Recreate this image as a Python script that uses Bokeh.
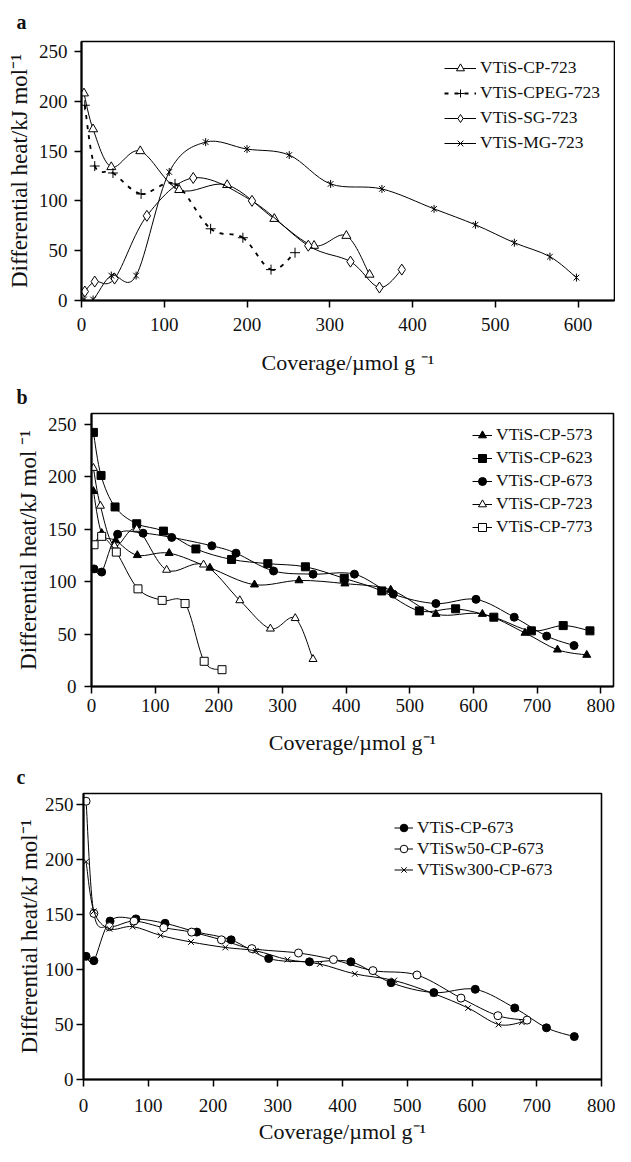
from bokeh.plotting import figure
from bokeh.layouts import column
from bokeh.models import Range1d, FixedTicker, Legend, LegendItem
from bokeh.embed import file_html
from bokeh.resources import INLINE
import math

FONT = "Liberation Serif"

# ---------------- Panel a data ----------------
a_cp723_x = [3, 14, 36, 71, 118, 176, 233, 281, 320, 348]
a_cp723_y = [208, 172, 134, 150, 111, 116, 82, 55, 65, 26]
a_cpeg723_x = [4, 16, 38, 72, 113, 156, 195, 229, 258]
a_cpeg723_y = [196, 135, 128, 107, 117, 72, 63, 31, 48]
a_sg723_x = [4, 16, 40, 79, 135, 206, 274, 325, 360, 387]
a_sg723_y = [9, 19, 22, 85, 123, 100, 55, 39, 13, 31]
a_mg723_x = [3, 14, 36, 66, 106, 150, 200, 251, 301, 363, 426, 476, 523, 566, 598]
a_mg723_y = [1, 1, 25, 25, 129, 159, 152, 146, 117, 112, 92, 76, 58, 44, 23]

# ---------------- Panel b data ----------------
b_cp573_x = [3, 16, 38, 72, 122, 186, 256, 326, 398, 470, 541, 614, 681, 732, 778]
b_cp573_y = [186, 146, 139, 125, 127, 113, 97, 101, 98, 92, 69, 69, 51, 35, 30]
b_cp623_x = [3, 15, 37, 71, 113, 164, 220, 277, 336, 397, 456, 515, 572, 632, 691, 741, 783]
b_cp623_y = [242, 201, 171, 155, 148, 131, 121, 117, 114, 103, 91, 72, 74, 66, 53, 58, 53]
b_cp673_x = [4, 16, 41, 81, 126, 189, 227, 286, 348, 413, 474, 541, 604, 664, 715, 758]
b_cp673_y = [112, 109, 145, 146, 142, 134, 127, 110, 107, 107, 88, 79, 83, 66, 48, 39]
b_cp723_x = [3, 14, 36, 71, 118, 176, 233, 281, 320, 348]
b_cp723_y = [208, 172, 134, 150, 111, 116, 82, 55, 65, 26]
b_cp773_x = [4, 16, 39, 73, 111, 147, 177, 205]
b_cp773_y = [135, 143, 128, 93, 82, 79, 24, 16]

# ---------------- Panel c data ----------------
c_cp673_x = [4, 16, 41, 81, 126, 175, 228, 286, 349, 413, 475, 541, 605, 666, 715, 758]
c_cp673_y = [112, 108, 144, 146, 142, 134, 127, 110, 107, 107, 88, 79, 82, 65, 47, 39]
c_w50_x = [4, 16, 40, 78, 124, 167, 213, 260, 332, 386, 447, 515, 583, 640, 685]
c_w50_y = [253, 151, 139, 144, 138, 134, 127, 119, 115, 109, 99, 95, 74, 58, 54]
c_w300_x = [4, 16, 40, 76, 119, 166, 219, 266, 315, 365, 419, 480, 541, 594, 641, 677]
c_w300_y = [198, 153, 137, 139, 131, 125, 120, 117, 109, 105, 96, 90, 78, 65, 50, 52]

y_ticks = [0, 50, 100, 150, 200, 250]
x_ticks_a = [0, 100, 200, 300, 400, 500, 600]
x_ticks_bc = [0, 100, 200, 300, 400, 500, 600, 700, 800]


def smooth(x, y):
    """Bezier control points of a smoothed (Catmull-Rom style) curve through the data."""
    n = len(x)
    d = dict(x0=[], y0=[], x1=[], y1=[], cx0=[], cy0=[], cx1=[], cy1=[])
    for i in range(n - 1):
        i0 = i - 1 if i > 0 else i
        i3 = i + 2 if i + 2 < n else i + 1
        d["x0"].append(x[i]); d["y0"].append(y[i])
        d["x1"].append(x[i + 1]); d["y1"].append(y[i + 1])
        d["cx0"].append(x[i] + (x[i + 1] - x[i0]) / 6.0)
        d["cy0"].append(y[i] + (y[i + 1] - y[i0]) / 6.0)
        d["cx1"].append(x[i + 1] - (x[i3] - x[i]) / 6.0)
        d["cy1"].append(y[i + 1] - (y[i3] - y[i]) / 6.0)
    return d


def make_fig(title, height, xmax, xticks, left, right, top, bottom,
             xlabel, ylabel, t_off, t_std, x_std, x_lstd, y_std, y_lstd):
    p = figure(width=615, height=height, output_backend="svg", toolbar_location=None,
               x_range=Range1d(0, xmax), y_range=Range1d(0, 260),
               min_border_left=left, min_border_right=right,
               min_border_top=top, min_border_bottom=bottom,
               frame_align=False,
               background_fill_color="white", border_fill_color="white")
    p.title.text = title
    p.title.text_font = FONT
    p.title.text_font_size = "20px"
    p.title.text_font_style = "bold"
    p.title.text_color = "#111111"
    p.title.align = "left"
    p.title.offset = t_off
    p.title.standoff = t_std
    p.xgrid.visible = False
    p.ygrid.visible = False
    p.outline_line_color = "black"
    p.outline_line_width = 1.6
    p.xaxis.ticker = FixedTicker(ticks=xticks)
    p.yaxis.ticker = FixedTicker(ticks=y_ticks)
    for ax in (p.xaxis[0], p.yaxis[0]):
        ax.axis_line_width = 2
        ax.axis_line_color = "black"
        ax.major_tick_line_width = 1.5
        ax.major_tick_line_color = "black"
        ax.major_tick_in = 0
        ax.major_tick_out = 7
        ax.minor_tick_line_color = None
        ax.major_label_text_font = FONT
        ax.major_label_text_font_size = "19px"
        ax.major_label_text_color = "#111111"
        ax.axis_label_text_font = FONT
        ax.axis_label_text_font_style = "normal"
        ax.axis_label_text_color = "#111111"
    p.xaxis.axis_label = xlabel
    p.yaxis.axis_label = ylabel
    p.xaxis.axis_label_text_font_size = "22px"
    p.yaxis.axis_label_text_font_size = "23px"
    p.xaxis.major_label_standoff = x_std
    p.xaxis.axis_label_standoff = x_lstd
    p.yaxis.major_label_standoff = y_std
    p.yaxis.axis_label_standoff = y_lstd
    return p


def series(p, x, y, marker, fill, size=8, dash="solid", lw=1.0, extra_vbar=False):
    d = smooth(x, y)
    bz = p.bezier(x0=d["x0"], y0=d["y0"], x1=d["x1"], y1=d["y1"],
                  cx0=d["cx0"], cy0=d["cy0"], cx1=d["cx1"], cy1=d["cy1"],
                  line_color="black", line_width=lw, line_dash=dash)
    rs = [bz]
    sc = p.scatter(x=x, y=y, marker=marker, size=size, line_color="black",
                   fill_color=fill, line_width=1)
    rs.append(sc)
    if extra_vbar:
        sc2 = p.scatter(x=x, y=y, marker="dash", angle=math.pi / 2, size=size,
                        line_color="black", line_width=1)
        rs.append(sc2)
    return rs


def add_legend(p, items, loc, glyph_width, spacing, row_h=20):
    lg = Legend(items=[LegendItem(label=l, renderers=r) for l, r in items],
                location=loc, glyph_width=glyph_width, glyph_height=row_h,
                label_height=row_h, spacing=spacing, padding=4, margin=0,
                label_standoff=4, label_text_font=FONT,
                label_text_font_size="17.5px", label_text_color="#111111",
                background_fill_alpha=0, border_line_alpha=0)
    p.add_layout(lg, "center")


# ---------------- Panel a ----------------
pa = make_fig("a", 377, 644, x_ticks_a, 81, 1, 38, 72,
              "Coverage/\u00b5mol g \u207b\u00b9", "Differential heat/kJ mol\u207b\u00b9",
              -65, 17, 10, 16, 7, 4)
r1 = series(pa, a_cp723_x, a_cp723_y, "triangle", "white", size=9)
r2 = series(pa, a_cpeg723_x, a_cpeg723_y, "cross", None, size=10, dash="4 6", lw=1.8)
r3 = series(pa, a_sg723_x, a_sg723_y, "diamond", "white", size=11)
r4 = series(pa, a_mg723_x, a_mg723_y, "x", None, size=8, extra_vbar=True)
add_legend(pa, [("VTiS-CP-723", r1), ("VTiS-CPEG-723", r2),
                ("VTiS-SG-723", r3), ("VTiS-MG-723", r4)], (359, 143), 32, 4)

# ---------------- Panel b ----------------
pb = make_fig("b", 380, 820, x_ticks_bc, 91, 2, 32, 68,
              "Coverage/\u00b5mol g\u207b\u00b9", "Differential heat/kJ mol \u207b\u00b9",
              -75, 12, 5, 15, 8, 4)
s1 = series(pb, b_cp573_x, b_cp573_y, "triangle", "black", size=8)
s2 = series(pb, b_cp623_x, b_cp623_y, "square", "black", size=8)
s3 = series(pb, b_cp673_x, b_cp673_y, "circle", "black", size=8)
s4 = series(pb, b_cp723_x, b_cp723_y, "triangle", "white", size=8)
s5 = series(pb, b_cp773_x, b_cp773_y, "square", "white", size=8)
add_legend(pb, [("VTiS-CP-573", s1), ("VTiS-CP-623", s2), ("VTiS-CP-673", s3),
                ("VTiS-CP-723", s4), ("VTiS-CP-773", s5)], (377, 145), 20, 2)

# ---------------- Panel c ----------------
pc = make_fig("c", 389, 800, x_ticks_bc, 83, 14, 34, 63,
              "Coverage/\u00b5mol g\u207b\u00b9", "Differential heat/kJ mol\u207b\u00b9",
              -67, 12, 12, 4, 3, 0)
t1 = series(pc, c_cp673_x, c_cp673_y, "circle", "black", size=8)
t2 = series(pc, c_w50_x, c_w50_y, "circle", "white", size=8)
t3 = series(pc, c_w300_x, c_w300_y, "x", None, size=8)
add_legend(pc, [("VTiS-CP-673", t1), ("VTiSw50-CP-673", t2),
                ("VTiSw300-CP-673", t3)], (307, 195), 19, 0, row_h=19)

layout = column(pa, pb, pc, spacing=0)
open("out.html", "w").write(file_html(layout, INLINE))
